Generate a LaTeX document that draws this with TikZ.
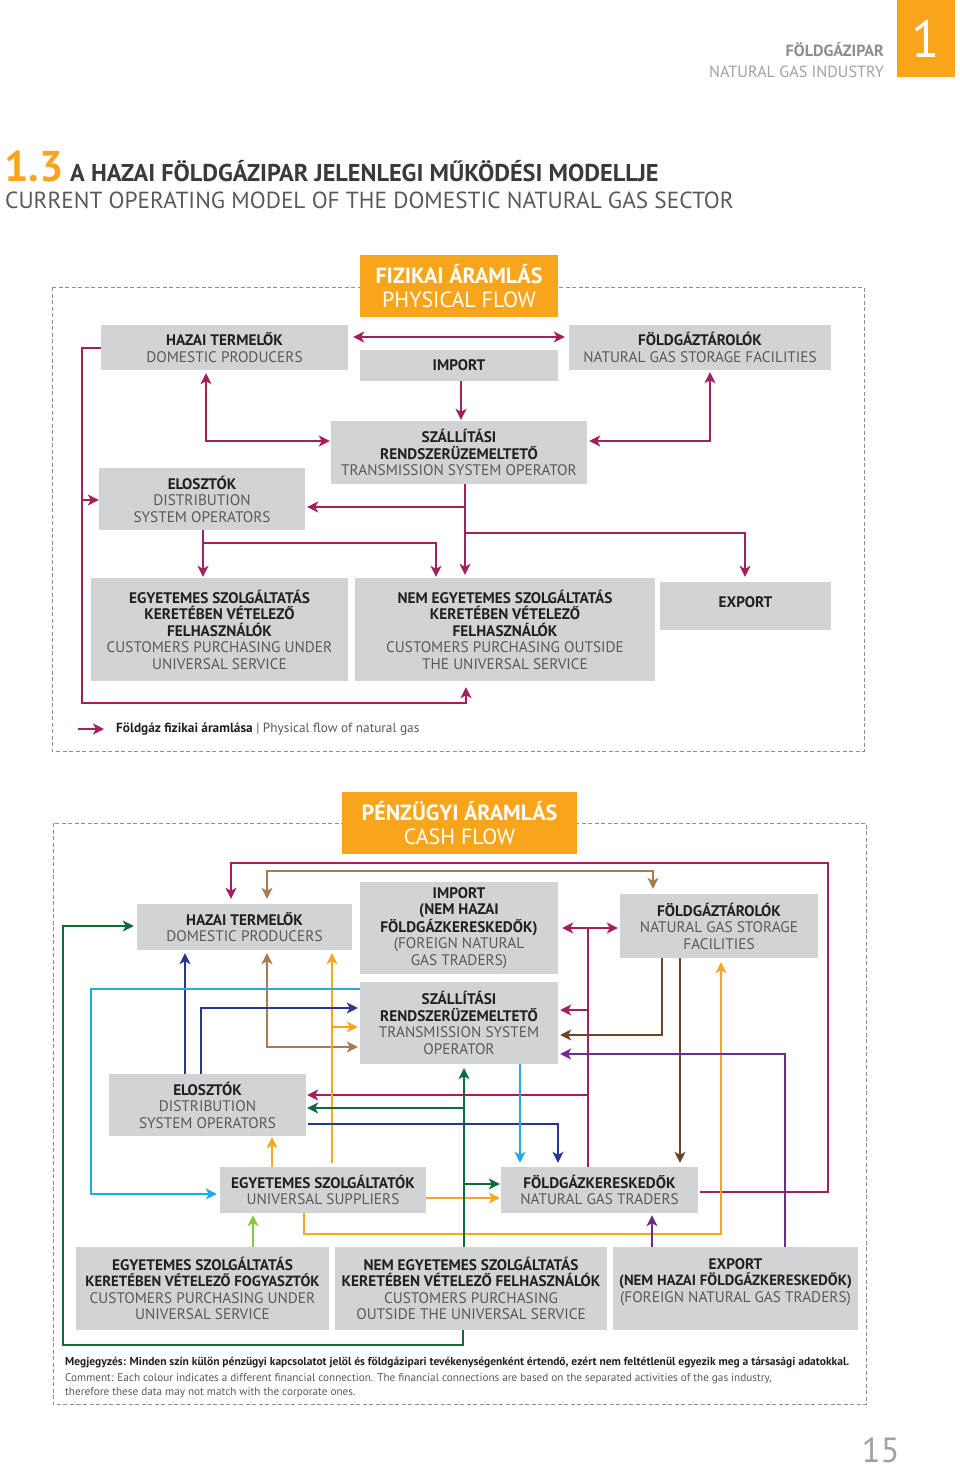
\documentclass[tikz,border=0pt]{standalone}
\usepackage{fontspec}
\setmainfont{PT Sans}
\usetikzlibrary{arrows.meta}
\definecolor{boxgrey}{HTML}{D1D3D4}
\definecolor{orng}{HTML}{F8A51B}
\definecolor{txtdark}{HTML}{231F20}
\definecolor{txtlight}{HTML}{58595B}
\definecolor{titlegrey}{HTML}{3A3A3C}
\definecolor{hdrgrey}{HTML}{8C8D8F}
\definecolor{hdrlight}{HTML}{A0A1A4}
\definecolor{framegrey}{HTML}{8E8E8E}
\definecolor{cMag}{HTML}{A3205E}
\definecolor{cTan}{HTML}{A57B4F}
\definecolor{cDbr}{HTML}{6A4526}
\definecolor{cDgr}{HTML}{0F6B3A}
\definecolor{cNav}{HTML}{27378B}
\definecolor{cCya}{HTML}{25A9E1}
\definecolor{cOra}{HTML}{F6A71F}
\definecolor{cLgr}{HTML}{8CC63F}
\definecolor{cPur}{HTML}{6A2E8F}
\newcommand{\EnT}[1]{\textcolor{txtlight}{#1}}
\begin{document}
\begin{tikzpicture}[x=1pt,y=-1pt,line join=miter,
  >={Stealth[length=11pt,width=11pt,inset=3pt]},
  box/.style={fill=boxgrey,inner sep=0pt,align=center,text=txtdark,font=\fontsize{15.3}{16.5}\selectfont},
  obox/.style={fill=orng,inner sep=0pt,align=center,text=white,font=\fontsize{22}{24}\selectfont},
  dashframe/.style={draw=framegrey,line width=1pt,dash pattern=on 4pt off 2.5pt},
  conn/.style={line width=2.7pt},
  pf/.style={conn,draw=cMag},
  lnMag/.style={conn,draw=cMag},
  lnTan/.style={conn,draw=cTan},
  lnDbr/.style={conn,draw=cDbr},
  lnDgr/.style={conn,draw=cDgr},
  lnNav/.style={conn,draw=cNav},
  lnCya/.style={conn,draw=cCya},
  lnOra/.style={conn,draw=cOra},
  lnLgr/.style={conn,draw=cLgr},
  lnPur/.style={conn,draw=cPur}]
\useasboundingbox (0,0) rectangle (960,1470);

% ---------- header ----------
\node[fill=orng,minimum width=58pt,minimum height=77pt,inner sep=0pt,text=white,font=\fontsize{52}{52}\selectfont] (chapBox) at (926,38.5) {\raisebox{-6.5pt}{1}};
\node[anchor=base east,inner sep=0pt,font=\bfseries\fontsize{16.2}{16.2}\selectfont,text=hdrgrey] (hdrHu) at (884,56) {FÖLDGÁZIPAR};
\node[anchor=base east,inner sep=0pt,font=\fontsize{16.2}{16.2}\selectfont,text=hdrlight] (hdrEn) at (884,77) {NATURAL GAS INDUSTRY};
\node[anchor=base west,inner sep=0pt,font=\bfseries\fontsize{43}{43}\selectfont,text=orng] (secNum) at (4,181) {1.3};
\node[anchor=base west,inner sep=0pt,font=\bfseries\fontsize{24.3}{24.3}\selectfont,text=titlegrey] (titleHu) at (70,181) {A HAZAI FÖLDGÁZIPAR JELENLEGI MŰKÖDÉSI MODELLJE};
\node[anchor=base west,inner sep=0pt,font=\fontsize{23.3}{23.3}\selectfont,text=txtlight] (titleEn) at (5,208) {CURRENT OPERATING MODEL OF THE DOMESTIC NATURAL GAS SECTOR};

% ---------- physical flow ----------
\draw[dashframe] (52,287) rectangle (864,751);
\node[obox,minimum width=198pt,minimum height=62pt] (pTitle) at (459,286) {\textbf{FIZIKAI ÁRAMLÁS}\\PHYSICAL FLOW};

\node[box,minimum width=247pt,minimum height=45pt] (pHaz) at (224.5,347.5) {\textbf{HAZAI TERMELŐK}\\\EnT{DOMESTIC PRODUCERS}};
\node[box,minimum width=198pt,minimum height=31pt] (pImp) at (459,365.5) {\textbf{IMPORT}};
\node[box,minimum width=262pt,minimum height=45pt] (pSto) at (700,347.5) {\textbf{FÖLDGÁZTÁROLÓK}\\\EnT{NATURAL GAS STORAGE FACILITIES}};
\node[box,minimum width=256pt,minimum height=63pt] (pTso) at (459,452.5) {\textbf{SZÁLLÍTÁSI}\\\textbf{RENDSZERÜZEMELTETŐ}\\\EnT{TRANSMISSION SYSTEM OPERATOR}};
\node[box,minimum width=206pt,minimum height=62pt] (pDso) at (202,499) {\textbf{ELOSZTÓK}\\\EnT{DISTRIBUTION}\\\EnT{SYSTEM OPERATORS}};
\node[box,minimum width=257pt,minimum height=103pt] (pUni) at (219.5,629.5) {\textbf{EGYETEMES SZOLGÁLTATÁS}\\\textbf{KERETÉBEN VÉTELEZŐ}\\\textbf{FELHASZNÁLÓK}\\\EnT{CUSTOMERS PURCHASING UNDER}\\\EnT{UNIVERSAL SERVICE}};
\node[box,minimum width=300pt,minimum height=103pt] (pNon) at (505,629.5) {\textbf{NEM EGYETEMES SZOLGÁLTATÁS}\\\textbf{KERETÉBEN VÉTELEZŐ}\\\textbf{FELHASZNÁLÓK}\\\EnT{CUSTOMERS PURCHASING OUTSIDE}\\\EnT{THE UNIVERSAL SERVICE}};
\node[box,minimum width=171pt,minimum height=48pt] (pExp) at (745.5,606) {\textbf{EXPORT}\\[-8pt]\mbox{}};

\draw[pf,<->,shorten <=5pt,shorten >=4pt] (pHaz.east |- 0,337) -- (pSto.west |- 0,337);
\draw[pf,->,shorten >=1pt] (pImp.south -| 461,0) -- (pTso.north -| 461,0);
\draw[pf,<->,shorten <=3pt,shorten >=1pt] (pHaz.south -| 206,0) |- (pTso.west |- 0,441);
\draw[pf,<->,shorten <=2pt,shorten >=2pt] (pTso.east |- 0,441) -| (pSto.south -| 710,0);
\draw[pf,->,shorten >=2pt] (pTso.south -| 465,0) |- (pDso.east |- 0,507);
\draw[pf,->,shorten >=3pt] (pTso.south -| 465,0) -- (pNon.north -| 465,0);
\coordinate (pJexp) at (465,533);
\draw[pf,->,shorten >=5pt] (pJexp) -| (pExp.north -| 745,0);
\draw[pf,->,shorten >=1pt] (pDso.south -| 203,0) -- (pUni.north -| 203,0);
\coordinate (pJnon) at (203,543);
\draw[pf,->,shorten >=1pt] (pJnon) -| (pNon.north -| 436,0);
\draw[pf,->,shorten >=6pt] (pHaz.west |- 0,348) -| (82,703) -| (pNon.south -| 466,0);
\coordinate (pJdso) at (82,500);
\draw[pf,->] (pJdso) -- (pDso.west |- 0,500);

\coordinate (legA) at (78,729);
\coordinate (legB) at (104,729);
\draw[pf,->] (legA) -- (legB);
\node[anchor=west,inner sep=0pt,font=\fontsize{13.3}{15}\selectfont,text=txtdark] (legT) at (116,729) {\textbf{Földgáz fizikai áramlása} \EnT{| Physical flow of natural gas}};

% ---------- cash flow ----------
\draw[dashframe] (53,823) rectangle (866,1404);
\node[obox,minimum width=235pt,minimum height=62pt] (cTitle) at (459.5,823) {\textbf{PÉNZÜGYI ÁRAMLÁS}\\CASH FLOW};

\node[box,minimum width=215pt,minimum height=46pt] (cHaz) at (244.5,927) {\textbf{HAZAI TERMELŐK}\\\EnT{DOMESTIC PRODUCERS}};
\node[box,minimum width=198pt,minimum height=92pt] (cImp) at (459,928) {\textbf{IMPORT}\\\textbf{(NEM HAZAI}\\\textbf{FÖLDGÁZKERESKEDŐK)}\\\EnT{(FOREIGN NATURAL}\\\EnT{GAS TRADERS)}};
\node[box,minimum width=198pt,minimum height=64pt] (cSto) at (719,926) {\textbf{FÖLDGÁZTÁROLÓK}\\\EnT{NATURAL GAS STORAGE}\\\EnT{FACILITIES}};
\node[box,minimum width=198pt,minimum height=82pt] (cTso) at (459,1023) {\textbf{SZÁLLÍTÁSI}\\\textbf{RENDSZERÜZEMELTETŐ}\\\EnT{TRANSMISSION SYSTEM}\\\EnT{OPERATOR}};
\node[box,minimum width=197pt,minimum height=62pt] (cDso) at (207.5,1105) {\textbf{ELOSZTÓK}\\\EnT{DISTRIBUTION}\\\EnT{SYSTEM OPERATORS}};
\node[box,minimum width=206pt,minimum height=46pt] (cUsu) at (323,1190) {\textbf{EGYETEMES SZOLGÁLTATÓK}\\\EnT{UNIVERSAL SUPPLIERS}};
\node[box,minimum width=197pt,minimum height=46pt] (cTrd) at (599.5,1190) {\textbf{FÖLDGÁZKERESKEDŐK}\\\EnT{NATURAL GAS TRADERS}};
\node[box,minimum width=253pt,minimum height=83pt] (cUni) at (202.5,1288.5) {\textbf{EGYETEMES SZOLGÁLTATÁS}\\\textbf{\fontsize{14.8}{16.5}\selectfont KERETÉBEN VÉTELEZŐ FOGYASZTÓK}\\\EnT{CUSTOMERS PURCHASING UNDER}\\\EnT{UNIVERSAL SERVICE}};
\node[box,minimum width=272pt,minimum height=83pt] (cNon) at (471,1288.5) {\textbf{NEM EGYETEMES SZOLGÁLTATÁS}\\\textbf{KERETÉBEN VÉTELEZŐ FELHASZNÁLÓK}\\\EnT{CUSTOMERS PURCHASING}\\\EnT{OUTSIDE THE UNIVERSAL SERVICE}};
\node[box,minimum width=245pt,minimum height=83pt] (cExp) at (735.5,1288.5) {\textbf{EXPORT}\\\textbf{\fontsize{14.8}{16.5}\selectfont (NEM HAZAI FÖLDGÁZKERESKEDŐK)}\\\EnT{(FOREIGN NATURAL GAS TRADERS)}\\\mbox{}};

% magenta
\draw[lnMag,->,shorten <=2pt,shorten >=5pt] (cTrd.east |- 0,1192) -| (828,863) -| (cHaz.north -| 231,0);
\coordinate (mTop) at (588,928);
\coordinate (mJ1) at (588,1010);
\coordinate (mJ2) at (588,1095);
\draw[lnMag] (cTrd.north -| 588,0) -- (mTop);
\draw[lnMag,<->,shorten <=4pt,shorten >=2pt] (cImp.east |- 0,928) -- (cSto.west |- 0,928);
\draw[lnMag,->,shorten >=2pt] (mJ1) -- (cTso.east |- 0,1010);
\draw[lnMag,->,shorten >=1pt] (mJ2) -- (cDso.east |- 0,1095);
% tan
\draw[lnTan,<->,shorten <=5pt,shorten >=5pt] (cHaz.north -| 267,0) |- (653,871) -- (cSto.north -| 653,0);
\draw[lnTan,<->,shorten <=3pt,shorten >=2pt] (cHaz.south -| 267,0) |- (cTso.west |- 0,1047);
% orange
\coordinate (oJ1) at (332,1027);
\draw[lnOra,->,shorten <=4pt,shorten >=3pt] (cUsu.north -| 332,0) -- (cHaz.south -| 332,0);
\draw[lnOra,->,shorten >=2pt] (oJ1) -- (cTso.west |- 0,1027);
\draw[lnOra,->,shorten >=1pt] (cUsu.north -| 272,0) -- (cDso.south -| 272,0);
\draw[lnOra,->,shorten >=1pt] (cUsu.east |- 0,1198) -- (cTrd.west |- 0,1198);
\draw[lnOra,->,shorten >=4pt] (cUsu.south -| 304,0) |- (721,1234) -- (cSto.south -| 721,0);
% dark green
\coordinate (gJ1) at (464,1108);
\coordinate (gJ2) at (464,1184);
\draw[lnDgr,->,shorten >=3pt] (cNon.south -| 463,0) |- (63,1345) |- (cHaz.west |- 0,926);
\draw[lnDgr,->,shorten >=4pt] (cNon.north -| 464,0) -- (cTso.south -| 464,0);
\draw[lnDgr,->,shorten >=1pt] (gJ1) -- (cDso.east |- 0,1108);
\draw[lnDgr,->,shorten >=1pt] (gJ2) -- (cTrd.west |- 0,1184);
% navy
\draw[lnNav,->,shorten >=3pt] (cDso.north -| 185,0) -- (cHaz.south -| 185,0);
\draw[lnNav,->,shorten >=2pt] (cDso.north -| 201,0) |- (cTso.west |- 0,1008);
\draw[lnNav,->,shorten <=2pt,shorten >=4pt] (cDso.east |- 0,1124) -| (cTrd.north -| 558,0);
% cyan
\draw[lnCya,->,shorten >=3pt] (cTso.west |- 0,989) -| (91,1194) -- (cUsu.west |- 0,1194);
\draw[lnCya,->,shorten >=4pt] (cTso.south -| 520,0) -- (cTrd.north -| 520,0);
% dark brown
\draw[lnDbr,->,shorten >=2pt] (cSto.south -| 662,0) |- (cTso.east |- 0,1035);
\draw[lnDbr,->,shorten >=4pt] (cSto.south -| 680,0) -- (cTrd.north -| 680,0);
% purple
\draw[lnPur,->,shorten >=2pt] (cExp.north -| 785,0) |- (cTso.east |- 0,1054);
\draw[lnPur,->,shorten >=2pt] (cExp.north -| 652,0) -- (cTrd.south -| 652,0);
% light green
\draw[lnLgr,->,shorten >=2pt] (cUni.north -| 253,0) -- (cUsu.south -| 253,0);

% ---------- notes ----------
\node[anchor=base west,inner sep=0pt,font=\bfseries\fontsize{11.5}{13}\selectfont,text=txtdark] (noteHu) at (65,1365) {Megjegyzés: Minden szín külön pénzügyi kapcsolatot jelöl és földgázipari tevékenységenként értendő, ezért nem feltétlenül egyezik meg a társasági adatokkal.};
\node[anchor=base west,inner sep=0pt,font=\fontsize{11.2}{13}\selectfont,text=txtlight] (noteEn1) at (65,1381) {Comment: Each colour indicates a different financial connection. The financial connections are based on the separated activities of the gas industry,};
\node[anchor=base west,inner sep=0pt,font=\fontsize{11.2}{13}\selectfont,text=txtlight] (noteEn2) at (65,1395) {therefore these data may not match with the corporate ones.};

\node[anchor=base east,inner sep=0pt,font=\fontsize{35}{35}\selectfont,text=hdrlight] (pageNo) at (900,1462) {15};
\end{tikzpicture}
\end{document}
